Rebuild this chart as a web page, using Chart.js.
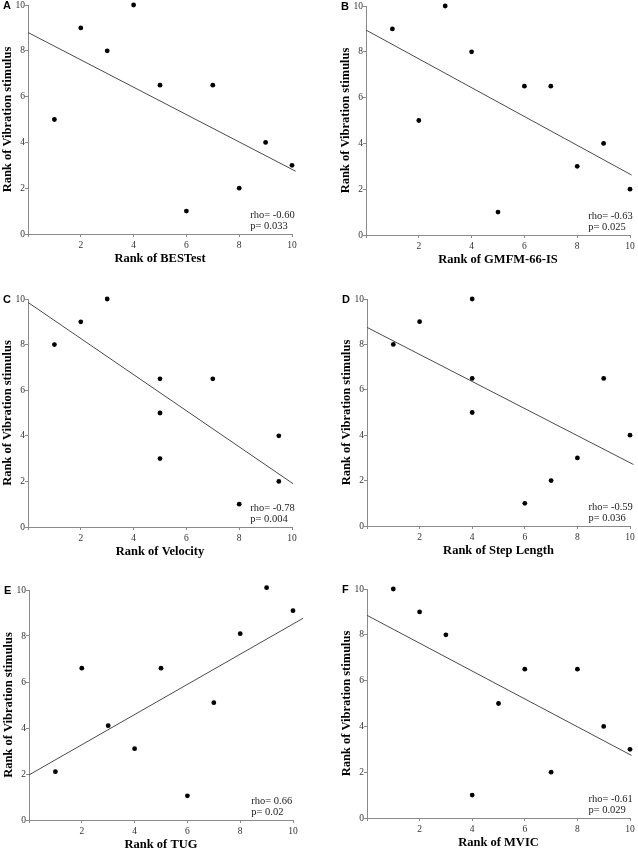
<!DOCTYPE html>
<html><head><meta charset="utf-8">
<script src="https://cdn.jsdelivr.net/npm/chart.js@4/dist/chart.umd.min.js"></script>
<style>
html,body{margin:0;padding:0;background:#fff;}
body{width:638px;height:850px;position:relative;overflow:hidden;}
canvas{position:absolute;}
</style>
</head><body>
<script>
// ---------- data ----------
const panelLetters = ['A','B','C','D','E','F'];
const yTitle = 'Rank of Vibration stimulus';
const xTitles = ['Rank of BESTest','Rank of GMFM-66-IS','Rank of Velocity','Rank of Step Length','Rank of TUG','Rank of MVIC'];
const rhoLabels = ['rho= -0.60','rho= -0.63','rho= -0.78','rho= -0.59','rho= 0.66','rho= -0.61'];
const pLabels = ['p= 0.033','p= 0.025','p= 0.004','p= 0.036','p= 0.02','p= 0.029'];
const tickMin = 0, tickMax = 10, tickStep = 2;

const xA = [1,2,3,4,5,6,7,8,9,10];
const yA = [5,9,8,10,6.5,1,6.5,2,4,3];
const xB = [1,2,3,4,5,6,7,8,9,10];
const yB = [9,5,10,8,1,6.5,6.5,3,4,2];
const xC = [1,2,3,5,5,5,7,8,9.5,9.5];
const yC = [8,9,10,6.5,5,3,6.5,1,4,2];
const xD = [1,2,4,4,4,6,7,8,9,10];
const yD = [8,9,10,6.5,5,1,2,3,6.5,4];
const xE = [1,2,3,4,5,6,7,8,9,10];
const yE = [2.1,6.6,4.1,3.1,6.6,1.05,5.1,8.1,10.1,9.1];
const xF = [1,2,3,4,5,6,7,8,9,10];
const yF = [10,9,8,1,5,6.5,2,6.5,4,3];

// fitted line end points
const fitXA = [0,10.14], fitYA = [8.8,2.74];
const fitXB = [0,10.06], fitYB = [8.95,2.62];
const fitXC = [0,10.04], fitYC = [9.85,1.9];
const fitXD = [0,10.13], fitYD = [8.75,2.71];
const fitXE = [0,10.38], fitYE = [1.96,8.77];
const fitXF = [0,10.06], fitYF = [8.85,2.73];

const xs = [xA,xB,xC,xD,xE,xF];
const ys = [yA,yB,yC,yD,yE,yF];
const fitXs = [fitXA,fitXB,fitXC,fitXD,fitXE,fitXF];
const fitYs = [fitYA,fitYB,fitYC,fitYD,fitYE,fitYF];
const annotX = 8.42;

// ---------- layout (page px): plot area [left, top, right, bottom] ----------
const plotBoxes = [[28,5,292,234],[366,6,630,235],[28,299,292,527],[367,299,630,526],[29,590,293,820],[367,589,630,818]];
const padL = 12.5, yScaleW = 27.5, padT = 15, padR = 20, xScaleH = 32.5, padB = 12.5;

Chart.defaults.font.family = "'Liberation Serif', 'Times New Roman', serif";
Chart.defaults.color = '#222';

const axisGray = '#8a8a8a';

function makePanel(i) {
  const [L,T,R,B] = plotBoxes[i];
  const W = (R-L) + padL + yScaleW + padR;
  const H = (B-T) + padT + xScaleH + padB;
  const cv = document.createElement('canvas');
  cv.width = W; cv.height = H;
  cv.style.width = W + 'px'; cv.style.height = H + 'px';
  cv.style.left = (L - padL - yScaleW) + 'px';
  cv.style.top = (T - padT) + 'px';
  document.body.appendChild(cv);

  const pts = xs[i].map((x,k) => ({x:x, y:ys[i][k]}));
  const fit = fitXs[i].map((x,k) => ({x:x, y:fitYs[i][k]}));

  const annot = {
    id: 'annot' + i,
    afterDraw(chart) {
      const ctx = chart.ctx, ca = chart.chartArea;
      const xs_ = chart.scales.x;
      ctx.save();
      ctx.fillStyle = '#222';
      ctx.font = "10.5px 'Liberation Serif'";
      ctx.textAlign = 'left';
      ctx.textBaseline = 'alphabetic';
      const ax = xs_.getPixelForValue(annotX);
      ctx.fillText(rhoLabels[i], ax, ca.bottom - 16);
      ctx.fillText(pLabels[i], ax, ca.bottom - 5);
      ctx.fillStyle = '#000';
      ctx.font = "bold 11px 'Liberation Sans'";
      ctx.fillText(panelLetters[i], ca.left - 25, ca.top + 4);
      ctx.restore();
    }
  };

  new Chart(cv, {
    type: 'scatter',
    data: {
      datasets: [
        { type:'line', data: fit, borderColor:'#4a4a4a', borderWidth:1, pointRadius:0, fill:false, clip:false, order:2 },
        { data: pts, backgroundColor:'#000', borderColor:'#000', pointRadius:2.4, pointHoverRadius:2.4, borderWidth:0, clip:false, order:1 }
      ]
    },
    options: {
      responsive:false, animation:false, devicePixelRatio: 1,
      layout: { padding: { left:padL, top:padT, right:padR, bottom:padB } },
      plugins: { legend:{display:false}, tooltip:{enabled:false} },
      events: [],
      scales: {
        x: {
          type:'linear', min:tickMin, max:tickMax,
          afterFit(s){ s.height = xScaleH; },
          border: { display:true, color:axisGray, width:1 },
          grid: { display:true, drawOnChartArea:false, drawTicks:true, tickLength:3, color:axisGray },
          ticks: { stepSize:tickStep, autoSkip:false, maxRotation:0, padding:3, color:'#333',
                   font:{ size:9.5 }, callback: v => v === 0 ? '' : v },
          title: { display:true, text:xTitles[i], color:'#000', padding:0,
                   font:{ size:12.5, weight:'bold' } }
        },
        y: {
          type:'linear', min:tickMin, max:tickMax,
          afterFit(s){ s.width = yScaleW; },
          border: { display:true, color:axisGray, width:1 },
          grid: { display:true, drawOnChartArea:false, drawTicks:true, tickLength:3, color:axisGray },
          ticks: { stepSize:tickStep, padding:0, color:'#333', font:{ size:9.5 } },
          title: { display:true, text:yTitle, color:'#000', padding:0,
                   font:{ size:12.5, weight:'bold' } }
        }
      }
    },
    plugins: [annot]
  });
}

for (let i = 0; i < 6; i++) makePanel(i);
</script>
</body></html>
